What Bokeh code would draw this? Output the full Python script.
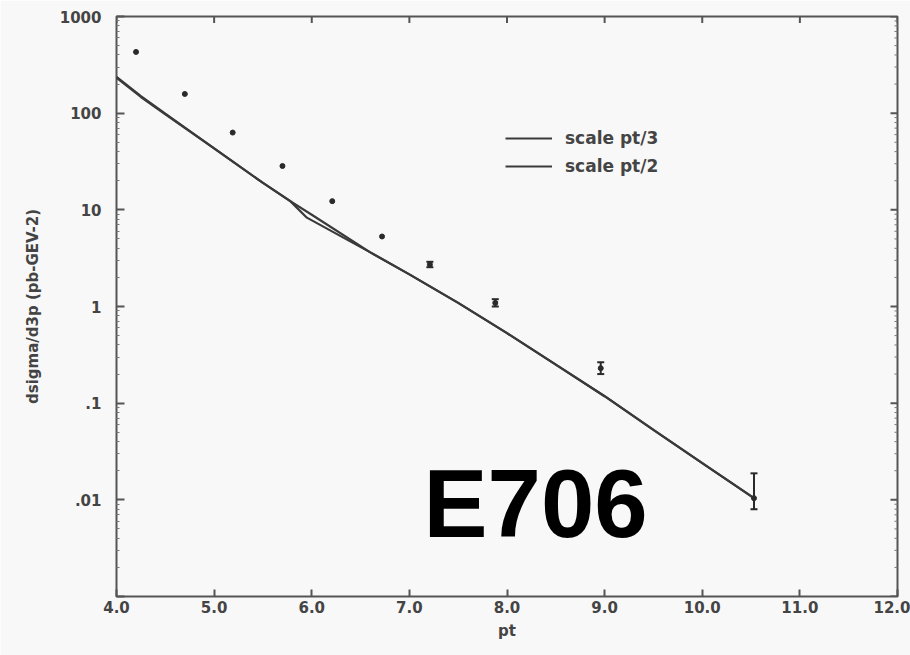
import math
from bokeh.plotting import figure
from bokeh.models import (ColumnDataSource, Whisker, TeeHead, Label, Legend, LegendItem,
                          FixedTicker, CustomJSTickFormatter, PrintfTickFormatter, Range1d)
from bokeh.embed import file_html
from bokeh.resources import INLINE

# ---------------- data ----------------
x_ticks = [4.0, 5.0, 6.0, 7.0, 8.0, 9.0, 10.0, 11.0, 12.0]
y_tick_values = [0.001, 0.01, 0.1, 1, 10, 100, 1000]
y_tick_labels = ["", ".01", ".1", "1", "10", "100", "1000"]

# theory curves
pt3_x = [4.0, 4.25, 4.5, 5.0, 5.5, 5.78, 6.0, 6.6, 7.0, 7.5, 8.0, 8.5, 9.0, 9.5, 10.0, 10.53]
pt3_y = [238, 150, 99.0, 43.2, 19.0, 12.3, 8.9, 3.63, 2.15, 1.09, 0.53, 0.25, 0.118, 0.053, 0.024, 0.0104]
pt2_x = [4.0, 4.25, 4.5, 5.0, 5.5, 5.78, 5.95, 6.6, 7.0, 7.5, 8.0, 8.5, 9.0, 9.5, 10.0, 10.53]
pt2_y = [232, 147, 97.0, 43.2, 19.0, 12.3, 8.3, 3.63, 2.15, 1.09, 0.53, 0.25, 0.118, 0.053, 0.024, 0.0104]

# measured points
data_pt = [4.20, 4.70, 5.19, 5.70, 6.21, 6.72, 7.21, 7.88, 8.96, 10.53]
data_xs = [430, 158, 63, 28.4, 12.3, 5.3, 2.72, 1.09, 0.23, 0.0104]
# error bars (points with visible bars)
err_pt = [7.21, 7.88, 8.96, 10.53]
err_lo = [2.55, 1.00, 0.20, 0.0080]
err_hi = [2.90, 1.19, 0.265, 0.0188]

legend_labels = ["scale pt/3", "scale pt/2"]
x_title = "pt"
y_title = "dsigma/d3p (pb-GEV-2)"
stamp = "E706"

# ---------------- styling ----------------
BG = "#f8f8f8"
INK = "#3a3a3a"
TXT = "#444444"
TICK = "#555555"
FONT = "DejaVu Sans"

minor = [m * 10.0 ** k for k in range(-3, 3) for m in range(2, 10)]

p = figure(width=910, height=655, x_range=Range1d(4, 12), y_range=Range1d(1e-3, 1e3),
           y_axis_type="log", output_backend="svg", toolbar_location=None,
           min_border_left=116, min_border_right=13, min_border_top=16, min_border_bottom=59,
           background_fill_color=BG, border_fill_color=BG)
p.xgrid.visible = False
p.ygrid.visible = False
p.outline_line_color = TICK
p.outline_line_width = 2

xt = FixedTicker(ticks=x_ticks)
yt = FixedTicker(ticks=y_tick_values, minor_ticks=minor)
yfmt = CustomJSTickFormatter(args=dict(vals=y_tick_values, labs=y_tick_labels), code="""
for (let i = 0; i < vals.length; i++) {
  if (Math.abs(Math.log10(tick) - Math.log10(vals[i])) < 1e-6) return labs[i];
}
return "";
""")

xa = p.xaxis[0]
xa.ticker = xt
xa.formatter = PrintfTickFormatter(format="%.1f")
xa.axis_line_color = None
xa.major_tick_in = 7
xa.major_tick_out = 0
xa.minor_tick_in = 0
xa.minor_tick_out = 0
xa.major_tick_line_color = TICK
xa.major_tick_line_width = 2
xa.major_label_standoff = 4
xa.major_label_text_font = FONT
xa.major_label_text_font_style = "bold"
xa.major_label_text_font_size = "15px"
xa.major_label_text_color = TXT
xa.axis_label = x_title
xa.axis_label_standoff = 6
xa.axis_label_text_font = FONT
xa.axis_label_text_font_style = "bold"
xa.axis_label_text_font_size = "15px"
xa.axis_label_text_color = TXT

ya = p.yaxis[0]
ya.ticker = yt
ya.formatter = yfmt
ya.axis_line_color = None
ya.major_tick_in = 8
ya.major_tick_out = 0
ya.minor_tick_in = 3
ya.minor_tick_out = 0
ya.major_tick_line_color = TICK
ya.minor_tick_line_color = "#777777"
ya.major_tick_line_width = 2
ya.major_label_standoff = 15
ya.major_label_text_font = FONT
ya.major_label_text_font_style = "bold"
ya.major_label_text_font_size = "15px"
ya.major_label_text_color = TXT
ya.axis_label = y_title
ya.axis_label_standoff = 15
ya.axis_label_text_font = FONT
ya.axis_label_text_font_style = "bold"
ya.axis_label_text_font_size = "15px"
ya.axis_label_text_color = TXT

# ticks on the top and right frame edges (dash markers centred on the edge, clipped to frame)
y_top = y_tick_values[-1]
x_right = x_ticks[-1]
p.scatter(x_ticks, [y_top] * len(x_ticks), marker="dash", angle=math.pi / 2, size=13,
          line_color=TICK, line_width=2)
p.scatter([x_right] * len(y_tick_values), y_tick_values, marker="dash", size=14,
          line_color=TICK, line_width=2)
p.scatter([x_right] * len(minor), minor, marker="dash", size=6,
          line_color="#777777", line_width=1)

r3 = p.line(pt3_x, pt3_y, line_color=INK, line_width=2.2)
r2 = p.line(pt2_x, pt2_y, line_color=INK, line_width=2.2)

p.scatter(data_pt, data_xs, size=5, color="#2a2a2a")

esrc = ColumnDataSource(dict(x=err_pt, lo=err_lo, hi=err_hi))
p.add_layout(Whisker(source=esrc, base="x", lower="lo", upper="hi", dimension="height",
                     line_color="#2a2a2a", line_width=2,
                     upper_head=TeeHead(size=7, line_color="#2a2a2a", line_width=2),
                     lower_head=TeeHead(size=7, line_color="#2a2a2a", line_width=2)))

legend = Legend(items=[LegendItem(label=legend_labels[0], renderers=[r3]),
                       LegendItem(label=legend_labels[1], renderers=[r2])],
                location=(389, 420), border_line_color=None, background_fill_alpha=0,
                glyph_width=47, glyph_height=16, label_height=16, spacing=8,
                padding=0, margin=0, label_standoff=13,
                label_text_font=FONT, label_text_font_style="bold",
                label_text_font_size="17px", label_text_color=TXT)
p.add_layout(legend)

p.add_layout(Label(x=307, y=93, x_units="screen", y_units="screen", text=stamp,
                   text_font="Liberation Sans", text_font_style="bold",
                   text_font_size="96px", text_color="#000000",
                   text_baseline="alphabetic", text_align="left"))

open("out.html", "w").write(file_html(p, INLINE))
